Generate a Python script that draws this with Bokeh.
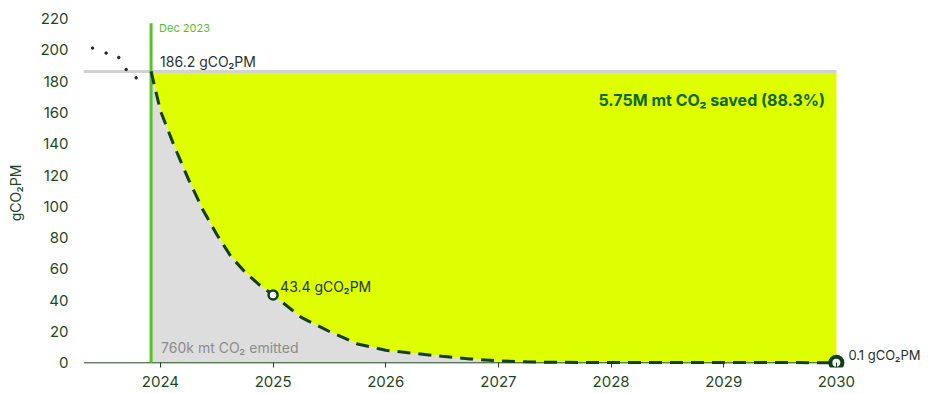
from bokeh.plotting import figure
from bokeh.models import Label, FixedTicker, Range1d
from bokeh.embed import file_html
from bokeh.resources import INLINE

# Emission intensity path (gCO2 per PM), decimal years
years = [2023.917, 2024.0, 2024.125, 2024.25, 2024.375, 2024.5, 2024.625, 2024.75,
         2024.875, 2025.0, 2025.25, 2025.5, 2025.75, 2026.0, 2026.25, 2026.5,
         2026.75, 2027.0, 2027.25, 2027.5, 2028.0, 2029.0, 2030.0]
intensity = [186.2, 161, 138, 117, 98, 82, 68, 58,
             50, 43.4, 29, 20, 12, 8, 6, 4.2,
             2.5, 1.2, 0.6, 0.3, 0.2, 0.15, 0.1]

# Historical readings before the start date
hist_years = [2023.397, 2023.518, 2023.630, 2023.696, 2023.784]
hist_values = [201.1, 197.9, 195.1, 187.4, 182.1]

start_year = 2023.917
baseline = 186.2
mid_year, mid_value = 2025.0, 43.4
end_year, end_value = 2030.0, 0.1
axis_start = 2023.317

x_ticks = [2024, 2025, 2026, 2027, 2028, 2029, 2030]
y_ticks = [0, 20, 40, 60, 80, 100, 120, 140, 160, 180, 200, 220]

FONT = "Inter"
DARK = "#1d4a1d"
LINE = "#123f17"
GREEN = "#55c22a"
YELLOW = "#ddff00"
GREY_FILL = "#dddddd"

# a little room below zero keeps the end marker whole
p = figure(width=928, height=394, output_backend="svg", toolbar_location=None,
           x_range=Range1d(axis_start, 2030.8), y_range=Range1d(-3, 220),
           min_border_left=83, min_border_right=2, min_border_top=18,
           min_border_bottom=27)
p.outline_line_color = None
p.grid.visible = False
p.background_fill_color = "white"
p.border_fill_color = "white"

# Areas: saved (above curve, below baseline) and emitted (below curve)
p.varea(x=years, y1=intensity, y2=[baseline] * len(years), fill_color=YELLOW)
p.varea(x=years, y1=[0] * len(years), y2=intensity, fill_color=GREY_FILL)

# Baseline level and the x axis line, both ending at the last year
p.segment(x0=[axis_start], y0=[baseline], x1=[end_year], y1=[baseline],
          line_color="#d2d2d2", line_width=3)
p.segment(x0=[axis_start], y0=[0], x1=[end_year], y1=[0],
          line_color=DARK, line_width=1)

# Start marker
p.segment(x0=[start_year], y0=[0], x1=[start_year], y1=[217],
          line_color=GREEN, line_width=3)

# Historical dots
p.scatter(hist_years, hist_values, size=2.5, color="#1a2a1a", marker="circle")

# Projected path
p.line(years, intensity, line_color=LINE, line_width=3, line_dash="13 8")

p.scatter([mid_year], [mid_value], size=9, marker="circle", fill_color="white",
          line_color=LINE, line_width=2.5)
p.scatter([end_year], [end_value], size=12, marker="circle", fill_color="white",
          line_color=LINE, line_width=4)

def lab(x, y, text, size, color, xo=0, yo=0, align="left", weight="normal"):
    p.add_layout(Label(x=x, y=y, text=text, x_offset=xo, y_offset=yo,
                       text_font=FONT, text_font_size=size, text_color=color,
                       text_align=align, text_baseline="middle",
                       text_font_style=weight))

lab(start_year, 214, "Dec 2023", "11px", GREEN, xo=8)
lab(start_year, baseline, f"{baseline} gCO₂PM", "14px", "#2b332b", xo=9, yo=10)
lab(mid_year, mid_value, f"{mid_value} gCO₂PM", "14px", "#1f331f", xo=7, yo=8)
lab(end_year, end_value, f"{end_value} gCO₂PM", "13px", "#1f331f", xo=12, yo=8)
lab(2029.9, 168, "5.75M mt CO₂ saved (88.3%)", "16px", "#116611",
    align="right", weight="bold")
lab(start_year, 10, "760k mt CO₂ emitted", "14px", "#8c8c8c", xo=10)

# Axes
xa = p.xaxis[0]
xa.ticker = FixedTicker(ticks=x_ticks)
xa.axis_line_color = None
xa.major_tick_line_color = DARK
xa.major_tick_in = 5
xa.major_tick_out = 0
xa.minor_tick_line_color = None
xa.major_label_text_font = FONT
xa.major_label_text_font_size = "15px"
xa.major_label_text_color = DARK
xa.major_label_standoff = 8

ya = p.yaxis[0]
ya.ticker = FixedTicker(ticks=y_ticks)
ya.axis_line_color = None
ya.major_tick_line_color = None
ya.minor_tick_line_color = None
ya.major_label_text_font = FONT
ya.major_label_text_font_size = "15px"
ya.major_label_text_color = DARK
ya.major_label_standoff = 9
ya.axis_label = "gCO₂PM"
ya.axis_label_text_font = FONT
ya.axis_label_text_font_size = "14px"
ya.axis_label_text_font_style = "normal"
ya.axis_label_text_color = DARK
ya.axis_label_standoff = 13

open("out.html", "w").write(file_html(p, INLINE))
